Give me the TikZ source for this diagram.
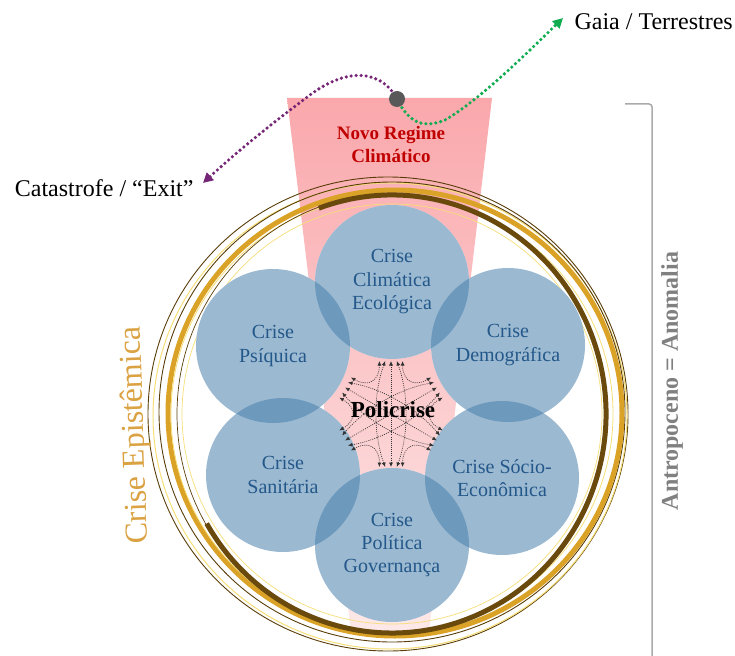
\documentclass[tikz,border=0pt]{standalone}
\usepackage{fontspec}
\setmainfont{Liberation Serif}
\usetikzlibrary{calc,arrows.meta}
\definecolor{cblue}{RGB}{73,128,173}
\definecolor{ctext}{RGB}{36,88,138}
\definecolor{cpurple}{RGB}{118,38,118}
\definecolor{cgreen}{RGB}{18,172,80}
\definecolor{cgold}{RGB}{218,162,66}
\definecolor{ringgold}{RGB}{218,162,38}
\definecolor{ringdark}{RGB}{90,62,10}
\definecolor{ringbrown}{RGB}{105,74,12}
\definecolor{ringyellow}{RGB}{245,222,120}
\definecolor{pinkTop}{RGB}{250,168,172}
\definecolor{pinkMid}{RGB}{251,205,207}
\definecolor{pinkBot}{RGB}{253,232,232}
\definecolor{dotgray}{RGB}{89,89,89}
\definecolor{bracketgray}{RGB}{170,170,170}
\definecolor{agray}{RGB}{128,128,128}
\definecolor{nred}{RGB}{192,0,0}
\definecolor{flowgray}{RGB}{50,50,50}
\tikzset{
  crisis/.style={circle, minimum size=154pt, inner sep=0pt, fill=cblue, fill opacity=0.55,
    text opacity=1, text=ctext, font=\fontsize{20}{23.5}\selectfont, align=center},
  flow/.style={draw=flowgray, line width=0.7pt, dash pattern=on 0.9pt off 1.2pt,
    {Latex[length=4.5pt,width=4pt]}-{Latex[length=4.5pt,width=4pt]}},
  dotpath/.style={line width=3.6pt, dash pattern=on 0pt off 5pt, line cap=round,
    -{Triangle[length=10pt,width=10pt]}},
  ringthin/.style={draw=ringdark, line width=0.9pt},
  ringlight/.style={draw=ringyellow, line width=1pt},
}
\begin{document}
\begin{tikzpicture}[x=1pt,y=-1pt]
\useasboundingbox (0,0) rectangle (735,655);
% trapezoid
\shade[top color=pinkTop, middle color=pinkMid, bottom color=pinkBot]
  (287,98) -- (492,98) -- (429,632) -- (351,632) -- cycle;
% rings
\draw[ringthin] (388,414) ellipse [x radius=240, y radius=237];
\draw[ringlight] (390,416) ellipse [x radius=237, y radius=233];
\draw[ringthin] (392,412) ellipse [x radius=233, y radius=230];
\draw[draw=ringgold, line width=5pt] (395,413) ellipse [x radius=227, y radius=223];
\draw[ringlight, line width=0.8pt] (392,414) ellipse [x radius=221, y radius=218];
\draw[ringthin, line width=0.7pt] (392,414) ellipse [x radius=215, y radius=220];
\draw[draw=ringbrown, line width=5pt] ($(392,414)+(-110:214 and 219)$)
  arc[start angle=-110, end angle=150, x radius=214, y radius=219];
\draw[ringlight, line width=0.7pt] (392,414) ellipse [x radius=210, y radius=210];
% circle positions
\coordinate (pclim) at (392,282);
\coordinate (ppsi) at (273,346);
\coordinate (pdemo) at (508,345);
\coordinate (psani) at (283,475);
\coordinate (psocio) at (502,478);
\coordinate (ppoli) at (392,545);
\foreach \p in {pclim,ppsi,pdemo,psani,psocio,ppoli}{\fill[white] (\p) circle (77);}
% crisis circles
\node[crisis] (clim) at (pclim) {Crise\\Climática\\Ecológica};
\node[crisis] (psi) at (ppsi) {Crise\\Psíquica};
\node[crisis] (demo) at (pdemo) {Crise\\Demográfica};
\node[crisis] (sani) at (psani) {Crise\\Sanitária};
\node[crisis] (socio) at (psocio) {Crise Sócio-\\Econômica};
\node[crisis] (poli) at (ppoli) {Crise\\Política\\Governança};
% central flows
\coordinate (C) at (391,414);
\foreach \k in {0,...,5}{
  \foreach \j in {1,...,5}{
    \coordinate (g\k-\j) at ($(C)+({270-60*\k}:53)+({360-60*\k}:{(\j-3)*5.8})$);
  }
}
\foreach \k [evaluate=\k as \n using {int(mod(\k+1,6))},
             evaluate=\k as \a using {270-60*\k},
             evaluate=\k as \b using {210-60*\k}] in {0,...,5}{
  \draw[flow] (g\k-1) .. controls ($(g\k-1)+(\a+180:20)$) and ($(g\n-5)+(\b+180:20)$) .. (g\n-5);
}
\foreach \k [evaluate=\k as \m using {int(\k+3)},
             evaluate=\k as \a using {270-60*\k}] in {0,1,2}{
  \draw[flow] (g\k-3) -- (g\m-3);
  \draw[flow] (g\k-4) .. controls ($(g\k-4)+(\a+160:35)$) and ($(g\m-2)+(\a+20:35)$) .. (g\m-2);
  \draw[flow] (g\k-2) .. controls ($(g\k-2)+(\a+200:35)$) and ($(g\m-4)+(\a-20:35)$) .. (g\m-4);
}
\node[font=\bfseries\fontsize{23}{26}\selectfont] (policrise) at (393,410) {Policrise};
% labels
\node[font=\bfseries\fontsize{19}{23}\selectfont, text=nred, align=center] (nrc) at (391,145) {Novo Regime\\Climático};
\node[rotate=92, font=\fontsize{32}{36}\selectfont, text=cgold] (epi) at (136,435) {Crise Epistêmica};
\node[rotate=90, font=\bfseries\fontsize{24}{27}\selectfont, text=agray] (antro) at (672,381) {Antropoceno = Anomalia};
% bracket
\coordinate (b1) at (625,104);
\coordinate (b2) at (652,104);
\coordinate (b3) at (652,656);
\draw[bracketgray, line width=1.5pt, rounded corners=3pt] (b1) -- (b2) -- (b3);
% paths
\node[anchor=east, font=\fontsize{24}{28}\selectfont] (cat) at (197,188) {Catastrofe / “Exit”};
\node[anchor=west, font=\fontsize{24}{28}\selectfont] (gaia) at (571,22) {Gaia / Terrestres};
\coordinate (catend) at (203,183);
\coordinate (gaiaend) at (563,18);
\coordinate (dotc) at (397,99);
\draw[dotpath, cpurple] (dotc) .. controls (383,72) and (350,65) .. (310,95)
  .. controls (290,110) and (250,140) .. (catend);
\draw[dotpath, cgreen] (dotc) .. controls (410,125) and (425,128) .. (445,120)
  .. controls (480,100) and (530,50) .. (gaiaend);
\node[circle, fill=dotgray, minimum size=16pt, inner sep=0pt] (dot) at (dotc) {};
\end{tikzpicture}
\end{document}
